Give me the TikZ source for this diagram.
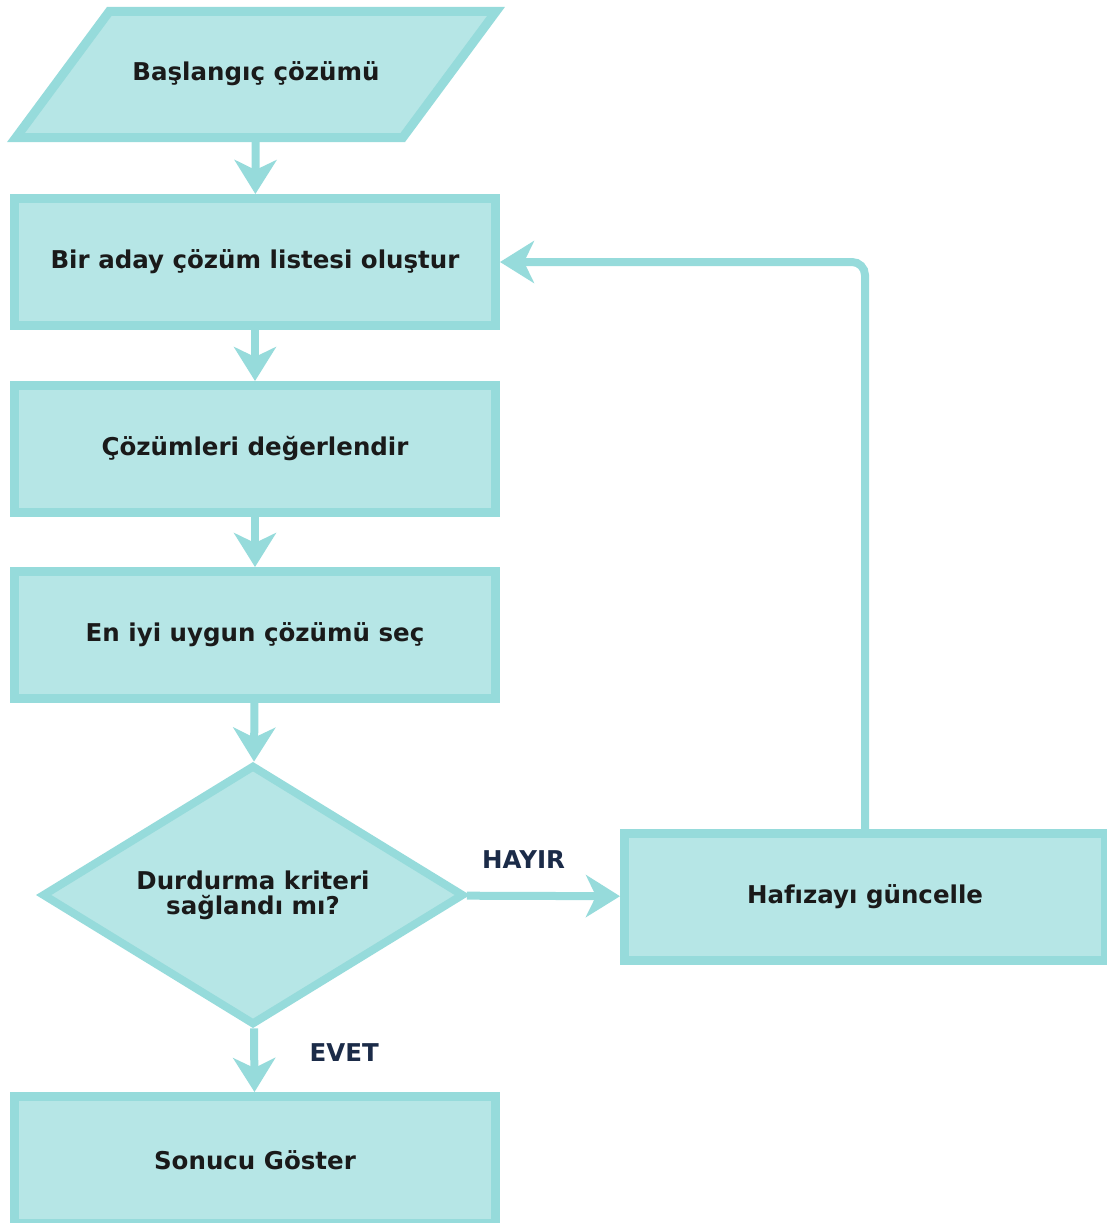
\documentclass[tikz,border=0pt]{standalone}
\usepackage{fontspec}
\setmainfont{DejaVu Sans}
\usetikzlibrary{shapes.geometric, arrows.meta, positioning}
\definecolor{tealline}{HTML}{96DBDB}
\definecolor{tealfill}{HTML}{B6E6E6}
\definecolor{darktext}{HTML}{1A1A1A}
\definecolor{navytext}{HTML}{1B2B48}

\tikzset{
  stepbox/.style={draw=tealline, fill=tealfill, line width=9pt, rectangle,
    minimum width=481pt, minimum height=127pt, align=center,
    font=\fontsize{24.5}{25}\selectfont\bfseries, text=darktext},
  inputbox/.style={stepbox, trapezium, trapezium stretches body,
    trapezium left angle=53.5, trapezium right angle=126.5,
    text height=18pt, text depth=6pt, inner ysep=51pt,
    minimum width=480pt, minimum height=126pt},
  decision/.style={stepbox, diamond, aspect=1.62, line width=8pt,
    minimum width=422pt, minimum height=260pt, inner sep=0pt},
  flow/.style={draw=tealline, line width=8pt,
    -{Stealth[length=34pt, width=42pt, inset=10pt]}},
  lbl/.style={font=\fontsize{24.5}{25}\selectfont\bfseries, text=navytext}
}

\begin{document}
\begin{tikzpicture}[x=1pt, y=-1pt]
  \useasboundingbox (0,0) rectangle (1107,1223);

  \node[inputbox] (start) at (256,74.5) {Başlangıç çözümü};
  \node[stepbox] (candidates) at (255,262) {Bir aday çözüm listesi oluştur};
  \node[stepbox, below=51pt of candidates] (evaluate) {Çözümleri değerlendir};
  \node[stepbox, below=50pt of evaluate] (select) {En iyi uygun çözümü seç};
  \node[decision] (check) at (253,895) {Durdurma kriteri\\sağlandı mı?};
  \node[stepbox] (memory) at (865,897) {Hafızayı güncelle};
  \node[stepbox] (result) at (255,1160) {Sonucu Göster};

  \draw[flow] (start) -- (candidates);
  \draw[flow] (candidates) -- (evaluate);
  \draw[flow] (evaluate) -- (select);
  \draw[flow] (select) -- (check);
  \draw[flow] (check) -- node[lbl, pos=0.37, yshift=36pt] {HAYIR} (memory);
  \draw[flow] (check) -- node[lbl, midway, xshift=90pt, yshift=8pt] {EVET} (result);
  \draw[flow, rounded corners=13pt] (memory.north) |- (candidates.east);
\end{tikzpicture}
\end{document}
